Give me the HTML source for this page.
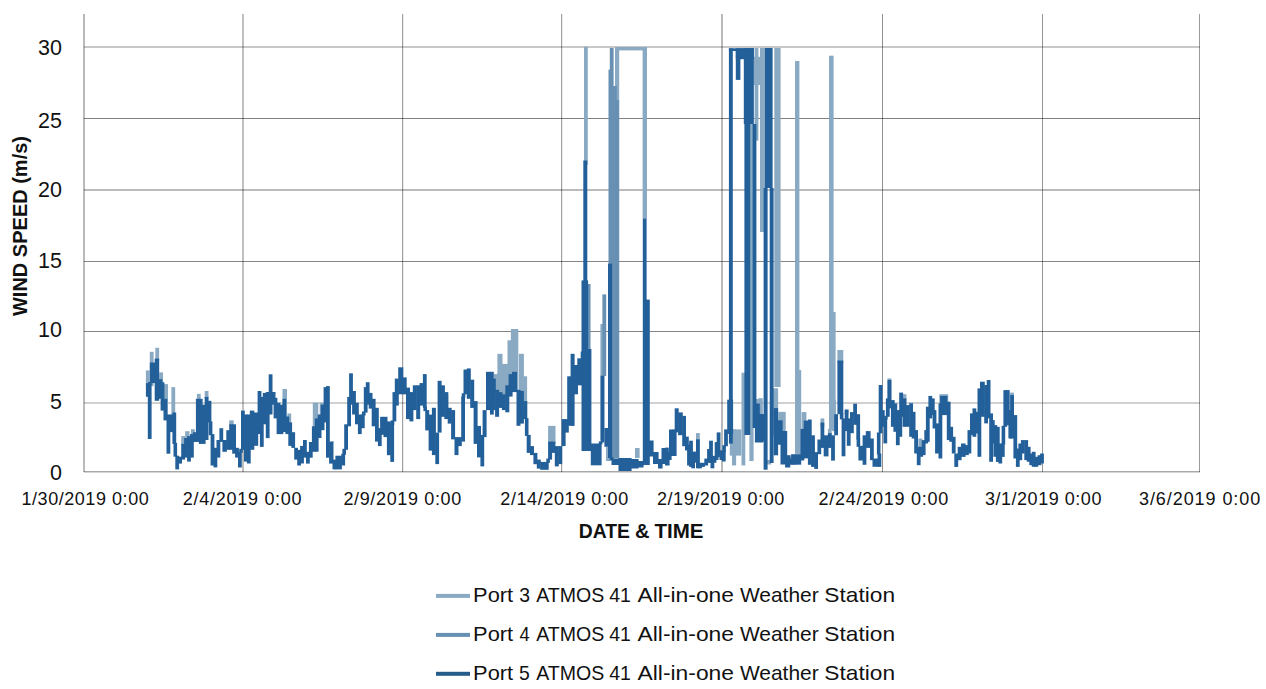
<!DOCTYPE html>
<html><head><meta charset="utf-8"><style>
html,body{margin:0;padding:0;background:#fff;width:1266px;height:689px;overflow:hidden}
svg{display:block}
text{font-family:"Liberation Sans",sans-serif;fill:#111}
</style></head><body>
<svg width="1266" height="689" viewBox="0 0 1266 689">
<rect width="1266" height="689" fill="#fff"/>
<rect x="84" y="46" width="1116" height="2" fill="rgba(0,0,0,0.216)"/><rect x="84" y="118" width="1116" height="1" fill="rgba(0,0,0,0.498)"/><rect x="84" y="189" width="1116" height="2" fill="rgba(0,0,0,0.267)"/><rect x="84" y="261" width="1116" height="1" fill="rgba(0,0,0,0.478)"/><rect x="84" y="331" width="1116" height="1" fill="rgba(0,0,0,0.478)"/><rect x="84" y="402" width="1116" height="2" fill="rgba(0,0,0,0.184)"/><rect x="84" y="471" width="1116" height="1.5" fill="rgba(0,0,0,0.341)"/><rect x="83" y="14" width="2" height="458" fill="rgba(0,0,0,0.271)"/><rect x="242" y="14" width="2" height="458" fill="rgba(0,0,0,0.247)"/><rect x="402" y="14" width="1.2" height="458" fill="rgba(0,0,0,0.373)"/><rect x="561" y="14" width="1.2" height="458" fill="rgba(0,0,0,0.373)"/><rect x="721" y="14" width="2" height="458" fill="rgba(0,0,0,0.271)"/><rect x="882" y="14" width="1" height="458" fill="rgba(0,0,0,0.435)"/><rect x="1042" y="14" width="1" height="458" fill="rgba(0,0,0,0.412)"/><rect x="1199" y="14" width="1" height="458" fill="rgba(0,0,0,0.396)"/>
<g fill="#8aaac4"><rect x="145.9" y="370.4" width="3.8" height="15.7"/><rect x="149.8" y="351.8" width="3.8" height="34.4"/><rect x="155.3" y="347.8" width="3.8" height="12.8"/><rect x="159.2" y="372.4" width="3.8" height="11.8"/><rect x="163.9" y="384.1" width="4.1" height="32.4"/><rect x="171.4" y="387.1" width="3.8" height="29.5"/><rect x="181.2" y="436.1" width="3.8" height="9.8"/><rect x="185.1" y="431.2" width="4.5" height="8.9"/><rect x="191.0" y="429.2" width="3.8" height="6.9"/><rect x="196.9" y="393.9" width="3.8" height="6.9"/><rect x="204.7" y="391.0" width="3.8" height="7.9"/><rect x="229.2" y="420.4" width="4.5" height="5.9"/><rect x="282.5" y="389.0" width="4.5" height="29.5"/><rect x="287.4" y="413.5" width="3.8" height="10.8"/><rect x="312.8" y="402.7" width="5.5" height="25.5"/><rect x="319.7" y="402.7" width="4.5" height="13.8"/><rect x="330.1" y="441.0" width="3.8" height="20.6"/><rect x="413.9" y="386.4" width="5.1" height="0.9"/><rect x="442.1" y="394.1" width="6.2" height="14.9"/><rect x="494.0" y="374.1" width="4.0" height="17.8"/><rect x="497.4" y="353.8" width="5.1" height="40.3"/><rect x="501.9" y="363.9" width="6.2" height="32.4"/><rect x="507.5" y="340.3" width="4.0" height="47.0"/><rect x="510.9" y="329.0" width="7.4" height="62.8"/><rect x="518.8" y="353.8" width="5.1" height="39.2"/><rect x="523.3" y="376.3" width="3.8" height="26.8"/><rect x="548.1" y="425.9" width="7.4" height="17.8"/><rect x="696.0" y="433.1" width="3.8" height="31.7"/><rect x="887.5" y="378.4" width="3.9" height="22.0"/><rect x="902.6" y="394.2" width="3.8" height="6.2"/><rect x="909.2" y="402.6" width="3.8" height="2.8"/><rect x="918.4" y="438.5" width="3.9" height="10.3"/><rect x="939.3" y="394.2" width="8.9" height="11.2"/><rect x="1010.1" y="392.6" width="3.9" height="4.5"/></g><g fill="#8aaac4"><rect x="584.0" y="46.7" width="3.8" height="118.3"/><rect x="600.4" y="324.0" width="3.8" height="116.0"/><rect x="606.0" y="446.8" width="8.6" height="14.2"/><rect x="615.0" y="47.0" width="4.2" height="411.0"/><rect x="615.0" y="47.0" width="32.0" height="3.4"/><rect x="635.0" y="448.0" width="4.6" height="10.0"/><rect x="642.6" y="47.0" width="4.4" height="172.0"/><rect x="729.8" y="429.4" width="11.5" height="26.2"/><rect x="732.0" y="429.4" width="4.1" height="36.0"/><rect x="741.5" y="372.7" width="3.8" height="92.7"/><rect x="749.4" y="436.0" width="4.2" height="25.0"/><rect x="749.8" y="48.0" width="3.8" height="388.0"/><rect x="751.6" y="406.5" width="4.0" height="7.5"/><rect x="753.6" y="56.8" width="6.6" height="28.2"/><rect x="754.6" y="48.0" width="3.8" height="92.6"/><rect x="754.9" y="399.0" width="3.8" height="24.4"/><rect x="758.4" y="398.2" width="4.4" height="17.5"/><rect x="760.0" y="48.0" width="5.6" height="184.0"/><rect x="766.8" y="459.9" width="4.4" height="4.6"/><rect x="772.9" y="388.3" width="5.2" height="47.2"/><rect x="774.3" y="48.0" width="6.3" height="339.0"/><rect x="778.2" y="411.9" width="7.5" height="23.6"/><rect x="786.6" y="455.3" width="5.2" height="9.1"/><rect x="795.0" y="61.0" width="4.4" height="393.0"/><rect x="797.4" y="370.0" width="3.8" height="84.2"/><rect x="801.6" y="412.1" width="4.8" height="18.9"/><rect x="820.5" y="418.4" width="3.8" height="8.4"/><rect x="827.9" y="428.9" width="3.8" height="6.3"/><rect x="829.0" y="55.7" width="4.6" height="294.3"/><rect x="829.0" y="312.0" width="6.6" height="118.0"/><rect x="832.1" y="399.5" width="3.8" height="31.6"/><rect x="837.4" y="350.0" width="5.9" height="13.7"/><rect x="844.7" y="408.9" width="3.8" height="5.3"/></g><g fill="#6890b2"><rect x="586.7" y="284.0" width="3.8" height="161.0"/><rect x="602.4" y="294.4" width="3.8" height="81.6"/><rect x="608.5" y="69.6" width="3.8" height="388.4"/><rect x="609.8" y="48.0" width="3.8" height="410.0"/><rect x="611.0" y="100.0" width="8.1" height="358.8"/><rect x="613.0" y="86.0" width="3.8" height="372.0"/></g><g fill="#23609a"><rect x="145.9" y="383.1" width="3.8" height="13.7"/><rect x="147.8" y="384.1" width="3.8" height="54.9"/><rect x="149.8" y="362.5" width="5.5" height="20.6"/><rect x="148.0" y="382.1" width="3.6" height="3.0"/><rect x="154.7" y="358.6" width="4.5" height="42.2"/><rect x="158.6" y="379.2" width="3.8" height="19.6"/><rect x="160.6" y="382.2" width="3.8" height="28.4"/><rect x="163.5" y="398.8" width="3.8" height="21.6"/><rect x="166.5" y="414.5" width="3.8" height="39.2"/><rect x="169.4" y="414.5" width="3.8" height="17.6"/><rect x="172.4" y="412.5" width="3.8" height="31.4"/><rect x="175.3" y="455.7" width="3.8" height="13.7"/><rect x="173.5" y="442.9" width="3.6" height="13.8"/><rect x="178.2" y="456.7" width="3.8" height="6.9"/><rect x="181.2" y="443.9" width="3.8" height="15.7"/><rect x="184.1" y="438.0" width="3.8" height="19.6"/><rect x="187.1" y="436.1" width="3.8" height="25.5"/><rect x="190.0" y="434.1" width="3.8" height="23.5"/><rect x="192.9" y="432.2" width="3.8" height="9.8"/><rect x="195.9" y="398.8" width="3.8" height="43.1"/><rect x="198.8" y="398.8" width="3.8" height="45.1"/><rect x="201.8" y="404.7" width="3.8" height="39.2"/><rect x="204.7" y="396.9" width="3.8" height="43.1"/><rect x="207.6" y="400.8" width="3.8" height="21.6"/><rect x="210.6" y="434.1" width="3.8" height="31.4"/><rect x="208.8" y="421.4" width="3.6" height="13.8"/><rect x="213.5" y="447.8" width="3.8" height="19.6"/><rect x="216.5" y="440.0" width="3.8" height="17.6"/><rect x="219.4" y="428.2" width="3.8" height="13.7"/><rect x="222.4" y="440.0" width="4.5" height="11.8"/><rect x="226.3" y="430.2" width="3.8" height="19.6"/><rect x="229.2" y="424.3" width="3.8" height="25.5"/><rect x="232.2" y="424.3" width="3.8" height="29.4"/><rect x="235.1" y="447.8" width="3.8" height="9.8"/><rect x="238.0" y="451.8" width="3.8" height="15.7"/><rect x="241.0" y="410.6" width="3.8" height="39.2"/><rect x="239.2" y="448.8" width="3.6" height="4.0"/><rect x="243.9" y="414.5" width="3.8" height="47.1"/><rect x="246.9" y="414.5" width="3.8" height="49.0"/><rect x="249.8" y="410.6" width="4.5" height="39.2"/><rect x="253.7" y="412.5" width="4.5" height="33.3"/><rect x="257.6" y="391.0" width="3.8" height="43.1"/><rect x="259.9" y="396.9" width="3.8" height="50.0"/><rect x="262.8" y="392.9" width="3.8" height="31.4"/><rect x="265.8" y="392.0" width="3.8" height="46.1"/><rect x="268.7" y="374.3" width="3.8" height="40.2"/><rect x="271.7" y="392.0" width="3.8" height="12.7"/><rect x="273.6" y="397.8" width="3.8" height="20.6"/><rect x="276.6" y="402.7" width="3.8" height="31.4"/><rect x="279.5" y="404.7" width="3.8" height="29.4"/><rect x="282.5" y="398.8" width="3.8" height="33.3"/><rect x="285.4" y="416.5" width="3.8" height="17.6"/><rect x="288.3" y="422.4" width="3.8" height="23.5"/><rect x="291.3" y="432.2" width="3.8" height="15.7"/><rect x="294.2" y="447.8" width="3.8" height="11.8"/><rect x="297.2" y="449.8" width="3.8" height="15.7"/><rect x="300.1" y="445.9" width="3.8" height="17.6"/><rect x="303.0" y="440.0" width="3.8" height="17.6"/><rect x="306.0" y="451.8" width="3.8" height="11.8"/><rect x="308.9" y="442.0" width="3.8" height="15.7"/><rect x="311.9" y="426.3" width="3.8" height="25.5"/><rect x="314.8" y="418.4" width="3.8" height="33.3"/><rect x="317.7" y="414.5" width="3.8" height="23.5"/><rect x="320.7" y="404.7" width="3.8" height="25.5"/><rect x="323.6" y="387.1" width="3.8" height="35.3"/><rect x="326.0" y="386.1" width="3.8" height="71.6"/><rect x="329.1" y="442.0" width="3.9" height="21.6"/><rect x="332.5" y="459.6" width="3.8" height="9.8"/><rect x="335.4" y="455.7" width="6.5" height="13.7"/><rect x="341.3" y="453.7" width="3.8" height="11.8"/><rect x="344.2" y="424.3" width="3.8" height="25.5"/><rect x="342.4" y="448.8" width="3.6" height="5.9"/><rect x="347.2" y="396.9" width="3.8" height="29.4"/><rect x="349.1" y="373.3" width="3.8" height="31.4"/><rect x="352.1" y="391.0" width="3.8" height="23.5"/><rect x="355.0" y="402.7" width="3.8" height="21.6"/><rect x="357.9" y="414.5" width="3.8" height="19.6"/><rect x="360.9" y="414.5" width="3.8" height="13.7"/><rect x="363.8" y="387.1" width="3.8" height="25.5"/><rect x="362.0" y="411.5" width="3.6" height="4.0"/><rect x="365.8" y="382.2" width="3.8" height="22.5"/><rect x="368.7" y="392.9" width="3.8" height="15.7"/><rect x="371.7" y="398.8" width="3.9" height="27.5"/><rect x="375.0" y="407.8" width="3.8" height="33.8"/><rect x="377.9" y="428.1" width="3.8" height="18.0"/><rect x="380.1" y="416.8" width="4.0" height="18.0"/><rect x="383.5" y="416.8" width="4.0" height="20.3"/><rect x="386.9" y="421.4" width="4.0" height="33.8"/><rect x="390.3" y="423.6" width="3.8" height="38.3"/><rect x="392.5" y="392.1" width="3.8" height="29.3"/><rect x="390.7" y="420.4" width="3.6" height="4.3"/><rect x="394.8" y="378.6" width="4.0" height="27.0"/><rect x="398.2" y="367.3" width="5.1" height="27.0"/><rect x="402.7" y="377.4" width="4.0" height="16.9"/><rect x="406.0" y="387.6" width="4.0" height="31.5"/><rect x="409.4" y="392.1" width="4.0" height="29.3"/><rect x="412.8" y="385.3" width="4.0" height="24.8"/><rect x="416.2" y="385.3" width="4.0" height="33.8"/><rect x="419.5" y="383.1" width="4.0" height="22.5"/><rect x="422.9" y="374.1" width="3.8" height="33.8"/><rect x="425.2" y="410.1" width="4.0" height="20.3"/><rect x="423.4" y="406.8" width="3.6" height="4.3"/><rect x="428.6" y="414.6" width="4.0" height="36.0"/><rect x="431.9" y="407.8" width="4.0" height="47.3"/><rect x="435.3" y="432.6" width="3.8" height="31.5"/><rect x="437.6" y="380.8" width="4.0" height="51.8"/><rect x="440.9" y="385.3" width="4.0" height="31.5"/><rect x="444.3" y="392.1" width="4.0" height="27.0"/><rect x="447.7" y="407.8" width="4.0" height="15.8"/><rect x="451.1" y="410.1" width="4.0" height="29.3"/><rect x="454.5" y="437.1" width="4.0" height="18.0"/><rect x="457.8" y="437.1" width="4.0" height="9.0"/><rect x="461.2" y="396.6" width="3.8" height="45.0"/><rect x="463.5" y="369.5" width="4.0" height="24.8"/><rect x="461.7" y="393.3" width="3.6" height="4.3"/><rect x="466.8" y="368.4" width="4.0" height="30.4"/><rect x="470.2" y="379.7" width="4.0" height="28.2"/><rect x="473.6" y="401.1" width="4.0" height="42.8"/><rect x="477.0" y="425.9" width="4.0" height="31.5"/><rect x="480.4" y="434.9" width="3.8" height="31.5"/><rect x="482.6" y="410.1" width="4.0" height="27.0"/><rect x="486.0" y="371.8" width="4.7" height="38.3"/><rect x="490.0" y="371.8" width="3.8" height="42.8"/><rect x="491.8" y="378.6" width="4.0" height="31.5"/><rect x="495.1" y="389.8" width="4.0" height="27.0"/><rect x="498.5" y="392.1" width="4.0" height="15.8"/><rect x="501.9" y="394.3" width="4.0" height="15.8"/><rect x="505.3" y="385.3" width="4.0" height="27.0"/><rect x="508.6" y="374.1" width="4.0" height="22.5"/><rect x="512.0" y="371.8" width="5.1" height="20.3"/><rect x="516.5" y="389.8" width="4.0" height="36.0"/><rect x="519.9" y="390.9" width="4.0" height="32.7"/><rect x="523.3" y="401.1" width="4.0" height="18.0"/><rect x="526.7" y="434.9" width="4.0" height="18.0"/><rect x="524.9" y="418.1" width="3.6" height="17.8"/><rect x="530.0" y="446.1" width="4.0" height="9.0"/><rect x="533.4" y="452.9" width="4.0" height="11.3"/><rect x="536.8" y="459.6" width="4.0" height="9.0"/><rect x="540.2" y="461.9" width="8.5" height="7.9"/><rect x="548.1" y="441.6" width="4.0" height="18.0"/><rect x="546.3" y="458.6" width="3.6" height="4.3"/><rect x="551.4" y="441.6" width="4.0" height="11.3"/><rect x="554.8" y="446.1" width="4.0" height="20.3"/><rect x="558.2" y="446.1" width="4.0" height="18.0"/><rect x="561.6" y="419.1" width="4.0" height="27.0"/><rect x="565.0" y="419.1" width="3.8" height="13.5"/><rect x="567.2" y="376.3" width="4.0" height="49.5"/><rect x="570.6" y="353.8" width="4.0" height="72.1"/><rect x="574.0" y="365.0" width="4.0" height="29.3"/><rect x="577.3" y="358.3" width="4.0" height="27.0"/><rect x="580.7" y="351.5" width="3.8" height="33.8"/><rect x="581.5" y="280.4" width="6.6" height="170.6"/><rect x="583.3" y="160.5" width="4.0" height="284.5"/><rect x="586.4" y="349.0" width="5.0" height="102.0"/><rect x="590.8" y="443.5" width="10.8" height="21.8"/><rect x="600.6" y="375.7" width="3.8" height="66.7"/><rect x="598.8" y="441.4" width="3.6" height="3.1"/><rect x="604.4" y="428.0" width="7.2" height="18.8"/><rect x="608.0" y="263.6" width="4.1" height="194.4"/><rect x="611.5" y="459.0" width="7.6" height="6.0"/><rect x="609.7" y="457.0" width="3.6" height="3.0"/><rect x="618.5" y="458.0" width="13.1" height="13.0"/><rect x="631.0" y="459.0" width="7.6" height="9.5"/><rect x="638.0" y="461.0" width="5.6" height="6.5"/><rect x="642.8" y="218.7" width="3.8" height="246.3"/><rect x="646.0" y="299.6" width="3.8" height="165.4"/><rect x="647.0" y="440.5" width="6.6" height="16.0"/><rect x="653.0" y="452.0" width="5.6" height="12.0"/><rect x="658.0" y="459.0" width="4.6" height="9.5"/><rect x="661.5" y="448.0" width="4.1" height="16.0"/><rect x="665.0" y="447.6" width="3.8" height="16.6"/><rect x="665.0" y="452.0" width="4.6" height="13.5"/><rect x="667.8" y="451.7" width="3.8" height="8.3"/><rect x="669.0" y="429.5" width="7.6" height="26.5"/><rect x="669.8" y="432.4" width="3.8" height="20.7"/><rect x="671.9" y="429.7" width="3.8" height="22.1"/><rect x="674.7" y="408.3" width="4.0" height="24.1"/><rect x="678.1" y="412.4" width="4.7" height="22.8"/><rect x="682.2" y="415.9" width="3.8" height="30.3"/><rect x="685.0" y="436.6" width="3.8" height="13.8"/><rect x="687.1" y="444.8" width="3.8" height="20.7"/><rect x="689.1" y="440.7" width="3.8" height="26.2"/><rect x="691.2" y="451.7" width="3.8" height="16.6"/><rect x="694.0" y="451.7" width="3.8" height="11.0"/><rect x="696.0" y="439.3" width="3.8" height="29.0"/><rect x="698.1" y="462.8" width="3.8" height="5.5"/><rect x="700.9" y="462.8" width="4.0" height="4.1"/><rect x="704.3" y="458.6" width="3.8" height="6.9"/><rect x="707.1" y="449.0" width="3.8" height="13.8"/><rect x="709.1" y="440.7" width="3.8" height="22.1"/><rect x="710.5" y="455.9" width="3.8" height="12.4"/><rect x="712.6" y="455.9" width="3.8" height="6.9"/><rect x="714.7" y="442.1" width="3.8" height="17.9"/><rect x="716.7" y="432.4" width="3.8" height="24.8"/><rect x="719.5" y="450.3" width="3.8" height="9.7"/><rect x="721.9" y="450.8" width="3.8" height="10.7"/><rect x="724.1" y="429.4" width="3.8" height="16.8"/><rect x="722.3" y="445.2" width="3.6" height="6.6"/><rect x="727.2" y="399.7" width="5.9" height="34.3"/><rect x="728.9" y="48.3" width="3.9" height="395.3"/><rect x="728.9" y="48.3" width="24.9" height="2.7"/><rect x="735.8" y="50.9" width="4.6" height="29.0"/><rect x="735.8" y="48.3" width="18.0" height="10.9"/><rect x="743.8" y="48.3" width="10.0" height="75.7"/><rect x="744.4" y="124.0" width="5.8" height="311.0"/><rect x="752.6" y="124.0" width="3.8" height="304.0"/><rect x="754.9" y="414.0" width="8.2" height="28.5"/><rect x="754.9" y="403.5" width="4.9" height="19.8"/><rect x="756.9" y="414.2" width="7.5" height="27.4"/><rect x="763.6" y="188.0" width="4.0" height="281.7"/><rect x="765.0" y="48.0" width="7.6" height="140.0"/><rect x="769.7" y="188.0" width="3.9" height="275.0"/><rect x="773.7" y="408.1" width="4.4" height="47.2"/><rect x="776.0" y="420.3" width="6.7" height="24.4"/><rect x="780.5" y="431.0" width="6.7" height="33.5"/><rect x="785.1" y="455.3" width="5.2" height="12.2"/><rect x="789.7" y="458.4" width="5.9" height="6.1"/><rect x="791.1" y="454.2" width="10.1" height="10.5"/><rect x="800.5" y="428.9" width="3.8" height="31.6"/><rect x="803.7" y="420.5" width="4.8" height="37.9"/><rect x="807.9" y="419.5" width="3.8" height="45.3"/><rect x="811.1" y="435.3" width="3.8" height="31.6"/><rect x="814.2" y="452.1" width="3.8" height="16.8"/><rect x="817.4" y="439.5" width="3.8" height="14.7"/><rect x="820.5" y="422.6" width="3.8" height="25.3"/><rect x="823.7" y="435.3" width="4.8" height="21.1"/><rect x="827.9" y="433.2" width="3.8" height="14.7"/><rect x="831.1" y="435.3" width="3.8" height="25.3"/><rect x="834.2" y="414.2" width="3.8" height="21.1"/><rect x="837.4" y="360.5" width="5.9" height="53.7"/><rect x="841.6" y="418.4" width="3.8" height="37.9"/><rect x="839.8" y="413.2" width="3.6" height="6.2"/><rect x="844.7" y="410.0" width="3.8" height="21.1"/><rect x="846.8" y="418.4" width="3.8" height="27.4"/><rect x="850.0" y="412.1" width="3.8" height="21.1"/><rect x="853.2" y="403.7" width="3.8" height="21.1"/><rect x="856.3" y="414.2" width="3.8" height="25.3"/><rect x="858.4" y="445.8" width="4.8" height="14.7"/><rect x="856.6" y="438.5" width="3.6" height="8.3"/><rect x="862.6" y="435.3" width="3.8" height="29.5"/><rect x="865.8" y="431.1" width="4.8" height="16.8"/><rect x="870.0" y="438.5" width="3.8" height="21.7"/><rect x="872.5" y="458.5" width="5.6" height="8.3"/><rect x="877.5" y="453.5" width="3.8" height="13.4"/><rect x="878.7" y="385.0" width="3.8" height="48.4"/><rect x="876.9" y="432.5" width="3.6" height="22.0"/><rect x="880.9" y="410.1" width="3.8" height="16.7"/><rect x="883.4" y="418.4" width="3.8" height="25.0"/><rect x="885.9" y="398.4" width="3.8" height="18.4"/><rect x="884.1" y="415.8" width="3.6" height="3.7"/><rect x="887.5" y="380.0" width="3.9" height="28.4"/><rect x="890.9" y="400.1" width="3.8" height="26.7"/><rect x="893.4" y="403.4" width="3.8" height="28.4"/><rect x="895.9" y="410.1" width="3.8" height="35.1"/><rect x="898.4" y="410.1" width="3.8" height="26.7"/><rect x="899.2" y="392.6" width="3.9" height="24.2"/><rect x="902.6" y="398.4" width="3.9" height="28.4"/><rect x="905.9" y="405.1" width="3.9" height="21.7"/><rect x="909.2" y="403.4" width="3.8" height="33.4"/><rect x="911.7" y="411.8" width="3.8" height="26.7"/><rect x="914.2" y="430.1" width="3.8" height="23.4"/><rect x="916.8" y="446.8" width="3.8" height="18.4"/><rect x="919.3" y="446.8" width="3.8" height="10.0"/><rect x="921.8" y="440.1" width="3.8" height="15.0"/><rect x="924.3" y="430.1" width="3.8" height="13.4"/><rect x="925.9" y="406.7" width="3.8" height="35.1"/><rect x="928.4" y="395.9" width="3.8" height="22.5"/><rect x="930.9" y="398.4" width="3.8" height="16.7"/><rect x="932.6" y="410.1" width="3.8" height="18.4"/><rect x="935.1" y="423.4" width="3.9" height="30.1"/><rect x="938.5" y="403.4" width="3.8" height="55.1"/><rect x="940.1" y="395.9" width="7.3" height="19.2"/><rect x="946.8" y="401.7" width="3.8" height="38.4"/><rect x="949.3" y="426.8" width="3.8" height="15.0"/><rect x="951.8" y="436.8" width="3.8" height="16.7"/><rect x="954.3" y="453.5" width="3.9" height="13.4"/><rect x="957.7" y="446.8" width="3.9" height="13.4"/><rect x="961.0" y="443.5" width="4.6" height="13.4"/><rect x="965.0" y="445.1" width="3.8" height="10.0"/><rect x="967.5" y="430.1" width="3.8" height="23.4"/><rect x="970.0" y="413.4" width="3.8" height="21.7"/><rect x="972.5" y="408.4" width="3.8" height="28.4"/><rect x="975.0" y="411.8" width="3.8" height="21.7"/><rect x="977.5" y="388.4" width="3.8" height="68.4"/><rect x="980.0" y="381.7" width="4.8" height="35.1"/><rect x="984.2" y="385.0" width="3.8" height="38.4"/><rect x="986.7" y="380.0" width="3.8" height="38.4"/><rect x="989.2" y="413.4" width="3.8" height="48.4"/><rect x="990.9" y="420.1" width="3.8" height="23.4"/><rect x="993.4" y="425.1" width="3.8" height="31.7"/><rect x="995.9" y="426.8" width="3.8" height="35.1"/><rect x="998.4" y="443.5" width="3.8" height="20.0"/><rect x="1000.9" y="443.5" width="3.8" height="13.4"/><rect x="1003.4" y="390.1" width="3.8" height="36.7"/><rect x="1001.6" y="425.8" width="3.6" height="18.7"/><rect x="1005.9" y="390.1" width="3.8" height="35.1"/><rect x="1008.4" y="410.1" width="3.8" height="28.4"/><rect x="1010.1" y="395.1" width="3.9" height="43.4"/><rect x="1013.4" y="415.1" width="3.8" height="43.4"/><rect x="1015.9" y="448.5" width="3.8" height="18.4"/><rect x="1018.4" y="443.5" width="3.8" height="16.7"/><rect x="1020.9" y="440.1" width="3.9" height="13.4"/><rect x="1024.3" y="440.1" width="3.8" height="20.0"/><rect x="1026.8" y="446.8" width="3.8" height="15.0"/><rect x="1029.3" y="453.5" width="3.8" height="11.7"/><rect x="1031.8" y="451.8" width="3.8" height="15.0"/><rect x="1034.3" y="456.8" width="3.9" height="10.0"/><rect x="1037.6" y="455.2" width="3.8" height="10.0"/><rect x="1040.1" y="453.5" width="3.8" height="10.0"/></g>
<text x="62" y="54.7" text-anchor="end" font-size="21.5">30</text><text x="62" y="127.6" text-anchor="end" font-size="21.5">25</text><text x="62" y="197.3" text-anchor="end" font-size="21.5">20</text><text x="62" y="268.3" text-anchor="end" font-size="21.5">15</text><text x="62" y="337.3" text-anchor="end" font-size="21.5">10</text><text x="62" y="408.6" text-anchor="end" font-size="21.5">5</text><text x="62" y="480.1" text-anchor="end" font-size="21.5">0</text><text x="21.5" y="504.5" font-size="18" textLength="127.2" lengthAdjust="spacing">1/30/2019 0:00</text><text x="182.8" y="504.5" font-size="18" textLength="118.8" lengthAdjust="spacing">2/4/2019 0:00</text><text x="343.4" y="504.5" font-size="18" textLength="117.8" lengthAdjust="spacing">2/9/2019 0:00</text><text x="500.3" y="504.5" font-size="18" textLength="127.9" lengthAdjust="spacing">2/14/2019 0:00</text><text x="657.0" y="504.5" font-size="18" textLength="127.2" lengthAdjust="spacing">2/19/2019 0:00</text><text x="818.6" y="504.5" font-size="18" textLength="129.6" lengthAdjust="spacing">2/24/2019 0:00</text><text x="984.9" y="504.5" font-size="18" textLength="116.5" lengthAdjust="spacing">3/1/2019 0:00</text><text x="1139.0" y="504.5" font-size="18" textLength="121.2" lengthAdjust="spacing">3/6/2019 0:00</text><text x="578.74" y="537.5" font-weight="bold" font-size="20" textLength="51.19" lengthAdjust="spacingAndGlyphs">DATE</text><text x="634.92" y="537.5" font-weight="bold" font-size="20" textLength="14.51" lengthAdjust="spacingAndGlyphs">&amp;</text><text x="654.47" y="537.5" font-weight="bold" font-size="20" textLength="49.03" lengthAdjust="spacingAndGlyphs">TIME</text><text transform="translate(27.2,316) rotate(-90)" x="0" y="0" font-weight="bold" font-size="21" textLength="180" lengthAdjust="spacingAndGlyphs">WIND SPEED (m/s)</text><rect x="436" y="593.9" width="34" height="4" fill="#8aaac4"/><text x="473.11" y="602.2" font-size="20.8" textLength="40.05" lengthAdjust="spacingAndGlyphs">Port</text><text x="519.16" y="602.2" font-size="20.8" textLength="10.79" lengthAdjust="spacingAndGlyphs">3</text><text x="536.26" y="602.2" font-size="20.8" textLength="68.02" lengthAdjust="spacingAndGlyphs">ATMOS</text><text x="609.25" y="602.2" font-size="20.8" textLength="21.70" lengthAdjust="spacingAndGlyphs">41</text><text x="637.56" y="602.2" font-size="20.8" textLength="96.46" lengthAdjust="spacingAndGlyphs">All-in-one</text><text x="739.91" y="602.2" font-size="20.8" textLength="78.84" lengthAdjust="spacingAndGlyphs">Weather</text><text x="824.37" y="602.2" font-size="20.8" textLength="70.71" lengthAdjust="spacingAndGlyphs">Station</text><rect x="436" y="632.9" width="34" height="4" fill="#6890b2"/><text x="473.11" y="641.1" font-size="20.8" textLength="40.05" lengthAdjust="spacingAndGlyphs">Port</text><text x="519.48" y="641.1" font-size="20.8" textLength="10.15" lengthAdjust="spacingAndGlyphs">4</text><text x="536.26" y="641.1" font-size="20.8" textLength="68.02" lengthAdjust="spacingAndGlyphs">ATMOS</text><text x="609.25" y="641.1" font-size="20.8" textLength="21.70" lengthAdjust="spacingAndGlyphs">41</text><text x="637.56" y="641.1" font-size="20.8" textLength="96.46" lengthAdjust="spacingAndGlyphs">All-in-one</text><text x="739.91" y="641.1" font-size="20.8" textLength="78.84" lengthAdjust="spacingAndGlyphs">Weather</text><text x="824.37" y="641.1" font-size="20.8" textLength="70.71" lengthAdjust="spacingAndGlyphs">Station</text><rect x="436" y="671.8" width="34" height="4" fill="#265c8a"/><text x="473.11" y="680.2" font-size="20.8" textLength="40.05" lengthAdjust="spacingAndGlyphs">Port</text><text x="519.12" y="680.2" font-size="20.8" textLength="10.79" lengthAdjust="spacingAndGlyphs">5</text><text x="536.26" y="680.2" font-size="20.8" textLength="68.02" lengthAdjust="spacingAndGlyphs">ATMOS</text><text x="609.25" y="680.2" font-size="20.8" textLength="21.70" lengthAdjust="spacingAndGlyphs">41</text><text x="637.56" y="680.2" font-size="20.8" textLength="96.46" lengthAdjust="spacingAndGlyphs">All-in-one</text><text x="739.91" y="680.2" font-size="20.8" textLength="78.84" lengthAdjust="spacingAndGlyphs">Weather</text><text x="824.37" y="680.2" font-size="20.8" textLength="70.71" lengthAdjust="spacingAndGlyphs">Station</text>
</svg></body></html>
